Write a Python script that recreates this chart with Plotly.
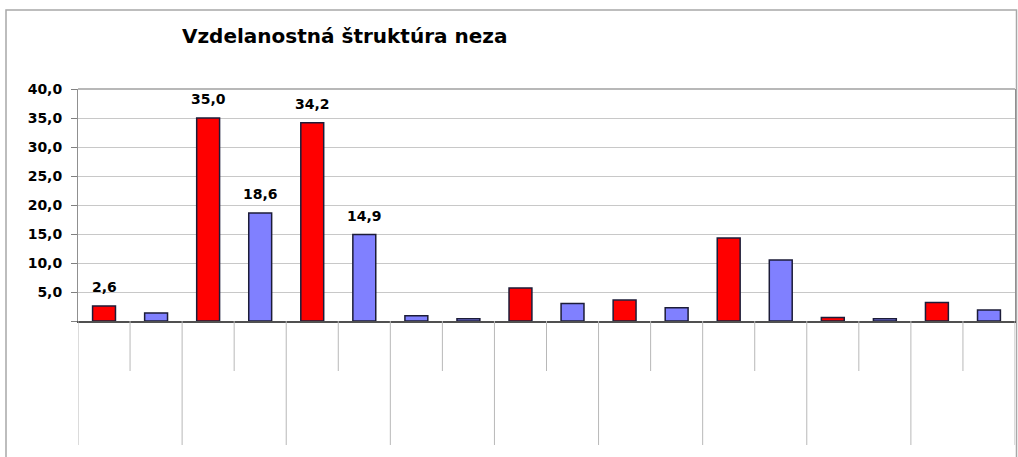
import plotly.graph_objects as go

# ---- data ----
title_text = "Vzdelanostná štruktúra neza"
values = [2.6, 1.4, 35.0, 18.6, 34.2, 14.9, 0.9, 0.4, 5.7, 3.0,
          3.6, 2.3, 14.3, 10.5, 0.6, 0.4, 3.2, 1.9]
series = ["A", "B", "A", "B", "A", "B", "B", "B", "A", "B",
          "A", "B", "A", "B", "A", "B", "A", "B"]
label_text = ["2,6", "", "35,0", "18,6", "34,2", "14,9", "", "", "", "",
              "", "", "", "", "", "", "", ""]
y_tickvals = [0, 5, 10, 15, 20, 25, 30, 35, 40]
y_ticktext = ["", "5,0", "10,0", "15,0", "20,0", "25,0", "30,0", "35,0", "40,0"]
n_groups = 9
bars_per_group = 2

# ---- style ----
color_map = {"A": "#FF0000", "B": "#8080FF"}
W, H = 1018, 457
ML, MT = 78, 89
MR = W - 1015
MB = H - 321
pw, ph = W - ML - MR, H - MT - MB

def px_x(p):
    return (p - ML) / pw

def px_y(p):
    return (H - MB - p) / ph

x = list(range(len(values)))
fig = go.Figure()
fig.add_trace(go.Bar(
    x=x, y=values, width=0.44,
    marker=dict(color=[color_map[s] for s in series],
                line=dict(color="#1c1c38", width=1.5)),
    hoverinfo="y",
))

for xi, v, t in zip(x, values, label_text):
    if t:
        fig.add_annotation(x=xi, y=v, text="<b>" + t + "</b>", showarrow=False,
                           yshift=19,
                           font=dict(family="DejaVu Sans", size=14, color="black"),
                           xanchor="center", yanchor="middle")

shapes = []
# category separators below axis
for k in range(n_groups + 1):
    xb = -0.5 + bars_per_group * k
    shapes.append(dict(type="line", xref="x", yref="paper", x0=xb, x1=xb,
                       y0=0, y1=px_y(445), line=dict(color="#b8b8b8", width=1)))
for k in range(n_groups):
    xb = 0.5 + bars_per_group * k
    shapes.append(dict(type="line", xref="x", yref="paper", x0=xb, x1=xb,
                       y0=0, y1=px_y(371), line=dict(color="#b8b8b8", width=1)))
# top edge of plot area
shapes.append(dict(type="line", xref="paper", yref="paper", x0=0, x1=1,
                   y0=1, y1=1, line=dict(color="#a0a0a0", width=1.5)))
# outer chart border
shapes.append(dict(type="rect", xref="paper", yref="paper",
                   x0=px_x(6), x1=px_x(1016.5), y0=px_y(470), y1=px_y(10),
                   line=dict(color="#a8a8a8", width=1.5), fillcolor="rgba(0,0,0,0)",
                   layer="below"))
fig.update_layout(shapes=shapes)

fig.add_annotation(xref="paper", yref="paper", x=px_x(180), y=px_y(36),
                   text="<b>" + title_text + "</b>", showarrow=False,
                   xanchor="left", yanchor="middle",
                   font=dict(family="DejaVu Sans", size=20, color="black"))

fig.update_layout(
    width=W, height=H,
    margin=dict(l=ML, r=MR, t=MT, b=MB, pad=0),
    paper_bgcolor="white", plot_bgcolor="white",
    showlegend=False, bargap=0.5,
    xaxis=dict(range=[-0.5, len(values) - 0.5], showticklabels=False,
               showgrid=False, zeroline=False, showline=True,
               linecolor="#505050", linewidth=1.5, mirror=False, ticks=""),
    yaxis=dict(range=[0, 40], tickvals=y_tickvals, ticktext=y_ticktext,
               showgrid=True, gridcolor="#c8c8c8", gridwidth=1,
               zeroline=False, showline=True, linecolor="#909090",
               linewidth=1, mirror=True, ticks="outside", ticklen=6,
               tickcolor="#808080", ticklabelstandoff=6,
               tickfont=dict(family="DejaVu Sans", size=14, color="black",
                             weight="bold")),
)

fig.write_html("out.html",
               config={"displayModeBar": False},
               post_script="document.body.style.margin='0';document.body.style.overflow='hidden';")
